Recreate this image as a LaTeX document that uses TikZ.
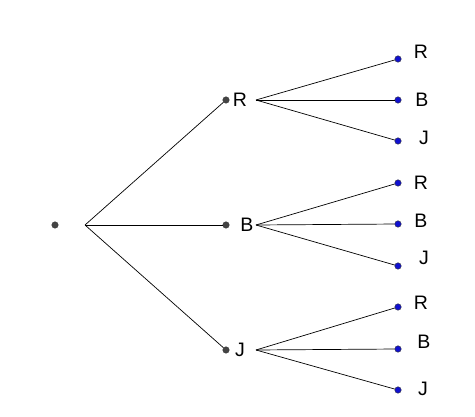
\documentclass[tikz,border=0pt]{standalone}
\usepackage{fontspec}
\setmainfont{Liberation Sans}
\usetikzlibrary{positioning}

\definecolor{dotgray}{HTML}{444444}
\definecolor{dotblue}{HTML}{1010D0}

\begin{document}
\begin{tikzpicture}[x=1pt,y=-1pt,
  pt/.style={circle,fill=#1,draw=black!80,line width=0.4pt,inner sep=0pt,minimum size=6.5pt},
  lab/.style={font=\fontsize{19.5}{19.5}\selectfont,inner sep=0pt},
  branch/.style={line width=0.7pt,black}]
\useasboundingbox (0,0) rectangle (475,417);
\node[pt=dotgray] (O) at (55,225) {};
\coordinate (Os) at (85,225);
% first level
\foreach \n/\y/\lx in {R/100/240, B/225/247, J/350/240}{
  \node[pt=dotgray] (\n) at (226,\y) {};
  \node[lab] (\n lab) at (\lx,\y) {\n};
  \coordinate (\n s) at (256,\y);
  \draw[branch] (Os) -- (\n);
}
% second level
\foreach \p/\c/\y/\lx/\ly in {R/R/59/421/52, R/B/100/422/100, R/J/141/424/138,
    B/R/183/421/183, B/B/224/421/221, B/J/266/424/258,
    J/R/307/421/303, J/B/349/424/342, J/J/390/423/389}{
  \node[pt=dotblue] (\p\c) at (398,\y) {};
  \node[lab] (\p\c lab) at (\lx,\ly) {\c};
  \draw[branch] (\p s) -- (\p\c);
}
\end{tikzpicture}
\end{document}
